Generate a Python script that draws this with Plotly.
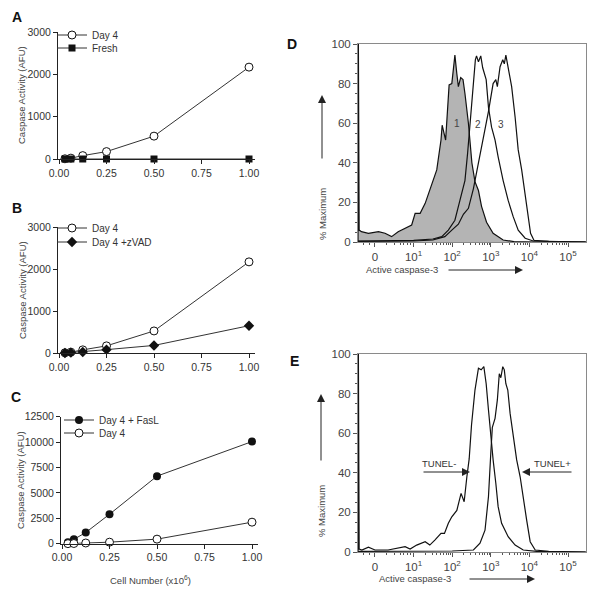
import math
import plotly.graph_objects as go

# page body adds an 8px offset; figure is sized so the visible window matches the reference
OFF = 8
W, H = 600 - OFF, 593 - OFF
FONT = "Liberation Sans, Arial, sans-serif"

# ---------------- data: panels A-C ----------------
cell_number = [0.03125, 0.0625, 0.125, 0.25, 0.5, 1.0]
a_day4 = [5, 20, 80, 175, 540, 2170]
a_fresh = [0, 0, 0, 0, 0, 0]
b_day4 = [5, 20, 75, 170, 525, 2170]
b_zvad = [0, 10, 25, 80, 180, 650]
c_fasl = [140, 430, 1100, 2900, 6650, 10050]
c_day4 = [5, 20, 70, 150, 450, 2120]

x_tickvals = [0, 0.25, 0.5, 0.75, 1.0]
x_ticktext = ["0.00", "0.25", "0.50", "0.75", "1.00"]
ab_y_ticks = [0, 1000, 2000, 3000]
c_y_ticks = [0, 2500, 5000, 7500, 10000, 12500]

# ---------------- data: panels D-E (flow histograms) ----------------
# x in display units: 0 -> 0, 1..5 -> 10^1..10^5
flow_tickvals = [0, 1, 2, 3, 4, 5]
flow_ticktext = ["0", "10<sup>1</sup>", "10<sup>2</sup>", "10<sup>3</sup>", "10<sup>4</sup>", "10<sup>5</sup>"]
pct_ticks = [0, 20, 40, 60, 80, 100]

d1_x = [-0.44, -0.43, -0.41, -0.35, -0.17, 0.09, 0.26, 0.43, 0.6, 0.78, 0.95, 1.04, 1.17, 1.3, 1.42,
        1.6, 1.71, 1.74, 1.83, 1.92, 1.99, 2.07, 2.12, 2.16, 2.22, 2.28, 2.33, 2.42, 2.51, 2.59,
        2.68, 2.76, 2.89, 3.06, 3.32, 3.6, 4.2, 5.46]
d1_y = [0, 100, 6, 5.2, 4.4, 5.2, 4.4, 2.7, 5.2, 6.9, 8.6, 14.5, 14.5, 19.5, 26.3,
        36.4, 51.5, 59, 51.5, 79.3, 80, 94.4, 85, 78.5, 83, 82, 75, 60, 40, 30.5,
        26, 18, 10, 4.4, 1, 0.2, 0, 0]

d2_x = [-0.44, 0.5, 1.0, 1.5, 1.73, 1.9, 2.07, 2.2, 2.33, 2.4, 2.46, 2.55, 2.6, 2.63, 2.68, 2.74,
        2.79, 2.88, 2.94, 3.02, 3.11, 3.19, 3.32, 3.45, 3.58, 3.71, 3.89, 4.1, 5.46]
d2_y = [0.5, 0.5, 0.8, 1.5, 2.7, 6, 11, 21, 31, 45, 60, 80, 92, 94, 91, 94,
        88, 82, 68, 58, 51.5, 43, 31, 21, 12.8, 6, 1.9, 0.5, 0]

d3_x = [-0.44, 1.0, 1.5, 1.81, 1.99, 2.16, 2.29, 2.42, 2.55, 2.68, 2.81, 2.94, 3.06, 3.13, 3.17,
        3.24, 3.31, 3.35, 3.39, 3.45, 3.54, 3.63, 3.71, 3.8, 3.89, 3.97, 4.03, 4.12, 4.5, 5.46]
d3_y = [0.3, 0.5, 1, 2.7, 6, 9, 14, 17, 27, 40, 51.5, 66, 80, 82, 78.5,
        88.5, 92, 90, 94.4, 88.5, 78.5, 63, 46.5, 36.4, 24.6, 12.8, 4.4, 0.8, 0.3, 0]

e_neg_x = [-0.44, -0.43, -0.41, -0.34, -0.17, 0, 0.34, 0.78, 0.91, 1.08, 1.3, 1.42, 1.55, 1.71,
           1.8, 1.9, 1.99, 2.12, 2.23, 2.31, 2.38, 2.44, 2.5, 2.59, 2.68, 2.75, 2.82, 2.88, 2.94,
           3.0, 3.06, 3.13, 3.19, 3.28, 3.37, 3.45, 3.63, 3.84, 4.19, 5.46]
e_neg_y = [0, 100, 1.5, 1, 2.4, 1, 1, 2.7, 1.5, 3.5, 5.2, 3.5, 6, 9.4,
           9.4, 14.5, 17.8, 21, 29.6, 25.4, 38, 47, 64, 81.8, 92.8, 92, 93.6, 85, 71.7,
           58, 46.5, 34.7, 22.9, 14.5, 11, 7.7, 3.5, 1, 0.3, 0]

e_pos_x = [-0.44, 1.0, 2.0, 2.55, 2.72, 2.85, 2.94, 3.0, 3.04, 3.11, 3.17, 3.22, 3.26, 3.31,
           3.35, 3.39, 3.44, 3.5, 3.58, 3.67, 3.76, 3.84, 3.93, 4.02, 4.15, 4.5, 5.46]
e_pos_y = [0.3, 0.3, 0.5, 1, 4.4, 11, 28, 50, 63, 67.5, 76.8, 90, 88, 93.6,
           92, 85, 81.8, 70, 58, 46.5, 38, 26.3, 16, 5.2, 1, 0.3, 0]


def px(x):
    return (x - OFF) / W


def py(y):
    return 1 - (y - OFF) / H


fig = go.Figure()

open_circle = dict(symbol="circle", size=8, color="white", line=dict(color="#111", width=1))
line_style = dict(color="#333", width=1)

# Panel A
fig.add_trace(go.Scatter(x=cell_number, y=a_day4, mode="lines+markers", name="Day 4",
                         marker=open_circle, line=line_style, xaxis="x", yaxis="y",
                         cliponaxis=False, legend="legend"))
fig.add_trace(go.Scatter(x=cell_number, y=a_fresh, mode="lines+markers", name="Fresh",
                         marker=dict(symbol="square", size=7, color="#111"), line=line_style,
                         xaxis="x", yaxis="y", cliponaxis=False, legend="legend2"))
# Panel B
fig.add_trace(go.Scatter(x=cell_number, y=b_day4, mode="lines+markers", name="Day 4",
                         marker=open_circle, line=line_style, xaxis="x2", yaxis="y2",
                         cliponaxis=False, legend="legend3"))
fig.add_trace(go.Scatter(x=cell_number, y=b_zvad, mode="lines+markers", name="Day 4 +zVAD",
                         marker=dict(symbol="diamond", size=8, color="#111"), line=line_style,
                         xaxis="x2", yaxis="y2", cliponaxis=False, legend="legend4"))
# Panel C
fig.add_trace(go.Scatter(x=cell_number, y=c_fasl, mode="lines+markers", name="Day 4 + FasL",
                         marker=dict(symbol="circle", size=8, color="#111"), line=line_style,
                         xaxis="x3", yaxis="y3", cliponaxis=False, legend="legend5"))
fig.add_trace(go.Scatter(x=cell_number, y=c_day4, mode="lines+markers", name="Day 4",
                         marker=open_circle, line=line_style, xaxis="x3", yaxis="y3",
                         cliponaxis=False, legend="legend6"))

# Panel D
fig.add_trace(go.Scatter(x=d1_x, y=d1_y, mode="lines", fill="tozeroy", fillcolor="#b4b4b4",
                         line=dict(color="#111", width=1.2), xaxis="x4", yaxis="y4", showlegend=False))
fig.add_trace(go.Scatter(x=d2_x, y=d2_y, mode="lines", line=dict(color="#111", width=1.2),
                         xaxis="x4", yaxis="y4", showlegend=False))
fig.add_trace(go.Scatter(x=d3_x, y=d3_y, mode="lines", line=dict(color="#111", width=1.2),
                         xaxis="x4", yaxis="y4", showlegend=False))
# Panel E
fig.add_trace(go.Scatter(x=e_neg_x, y=e_neg_y, mode="lines", line=dict(color="#111", width=1.2),
                         xaxis="x5", yaxis="y5", showlegend=False))
fig.add_trace(go.Scatter(x=e_pos_x, y=e_pos_y, mode="lines", line=dict(color="#111", width=1.2),
                         xaxis="x5", yaxis="y5", showlegend=False))

tickfont_left = dict(size=10.5, color="#333", family=FONT)
tickfont_flow = dict(size=11.5, color="#444", family=FONT)


def left_x(domain, anchor):
    return dict(domain=domain, range=[-1 / 190, 196 / 190], anchor=anchor, tickvals=x_tickvals,
                ticktext=x_ticktext, showline=True, linecolor="#222", linewidth=1, ticks="outside",
                ticklen=4, tickcolor="#222", tickfont=tickfont_left, showgrid=False, zeroline=False,
                automargin=False)


def left_y(domain, anchor, rng, tv):
    return dict(domain=domain, range=rng, anchor=anchor, tickvals=tv, tickformat="d", showline=True,
                linecolor="#222", linewidth=1, ticks="outside", ticklen=4, tickcolor="#222",
                tickfont=tickfont_left, showgrid=False, zeroline=False, automargin=False)


minor_x = [-0.3, -0.15, 0.3, 0.5, 0.65, 0.75, 0.85, 0.92]
for k in range(1, 5):
    for m in range(2, 10):
        minor_x.append(k + math.log10(m))


def flow_x(domain, anchor):
    return dict(domain=domain, range=[-0.44, 5.466], anchor=anchor, tickvals=flow_tickvals,
                ticktext=flow_ticktext, showline=True, mirror=True, linecolor="#8a8a8a", linewidth=1,
                ticks="outside", ticklen=4, tickcolor="#555", tickfont=tickfont_flow, showgrid=False,
                zeroline=False, automargin=False,
                minor=dict(tickmode="array", tickvals=minor_x, ticks="outside", ticklen=2, tickcolor="#555"))


def flow_y(domain, anchor):
    return dict(domain=domain, range=[0, 100], anchor=anchor, tickvals=pct_ticks,
                showline=True, mirror=True, linecolor="#8a8a8a", linewidth=1, ticks="outside", ticklen=4,
                tickcolor="#555", tickfont=tickfont_flow, showgrid=False, zeroline=False, automargin=False,
                minor=dict(dtick=5, ticks="outside", ticklen=2, tickcolor="#555"))


legend_base = dict(xanchor="left", yanchor="middle", bgcolor="rgba(0,0,0,0)", borderwidth=0,
                   font=dict(size=10, color="#333", family=FONT), itemwidth=30)


def leg(x, y):
    d = dict(legend_base)
    d.update(x=px(x), y=py(y))
    return d


fig.update_layout(
    width=W, height=H, margin=dict(l=0, r=0, t=0, b=0, autoexpand=False),
    paper_bgcolor="white", plot_bgcolor="white",
    font=dict(family=FONT, color="#333"),
    xaxis=left_x([px(58), px(255)], "y"),
    yaxis=left_y([py(159), py(32)], "x", [0, 3000], ab_y_ticks),
    xaxis2=left_x([px(58), px(255)], "y2"),
    yaxis2=left_y([py(353), py(227)], "x2", [0, 3000], ab_y_ticks),
    xaxis3=left_x([px(61), px(258)], "y3"),
    yaxis3=left_y([py(543.7), py(416.7)], "x3", [0, 12500], c_y_ticks),
    xaxis4=flow_x([px(358), px(586)], "y4"),
    yaxis4=flow_y([py(242), py(44)], "x4"),
    xaxis5=flow_x([px(358), px(586)], "y5"),
    yaxis5=flow_y([py(552), py(354)], "x5"),
    legend=leg(52, 35), legend2=leg(52, 48),
    legend3=leg(52, 228), legend4=leg(52, 242),
    legend5=leg(59, 420), legend6=leg(59, 433),
)

ann = []


def text(x, y, t, size=9.5, color="#333", angle=0, bold=False):
    ann.append(dict(x=px(x), y=py(y), xref="paper", yref="paper", text=("<b>%s</b>" % t) if bold else t,
                    showarrow=False, xanchor="center", yanchor="middle", textangle=angle,
                    font=dict(size=size, color=color, family=FONT)))


def arrow(hx, hy, tx, ty):
    ann.append(dict(x=px(hx), y=py(hy), xref="paper", yref="paper", text="", showarrow=True,
                    ax=tx - hx, ay=ty - hy, arrowhead=2, arrowsize=1.6, arrowwidth=1,
                    arrowcolor="#222", standoff=0))


for lbl, x, y in [("A", 17, 17), ("B", 17, 208), ("C", 16, 397), ("D", 292, 44), ("E", 294, 361)]:
    text(x, y, lbl, size=14, color="#111", bold=True)

text(21, 95, "Caspase Activity (AFU)", angle=-90, color="#444")
text(22, 290, "Caspase Activity (AFU)", angle=-90, color="#444")
text(20, 480, "Caspase Activity (AFU)", angle=-90, color="#444")
text(150, 580, "Cell Number (x10<sup>6</sup>)", color="#444")

# Panel D annotations
text(322, 214, "% Maximum", angle=-90, color="#444")
arrow(322, 95, 322, 160)
text(402, 269, "Active caspase-3", color="#444")
arrow(523, 270, 447, 270)
text(457, 124, "1", size=10, color="#444")
text(478, 125, "2", size=10, color="#444")
text(501, 125, "3", size=10, color="#444")

# Panel E annotations
text(321, 511, "% Maximum", angle=-90, color="#444")
arrow(321, 394, 321, 462)
text(415, 578, "Active caspase-3", color="#444")
arrow(535, 579, 468, 579)
text(439, 463, "TUNEL-", size=9.5, color="#333")
arrow(470, 472, 422, 472)
text(552, 463, "TUNEL+", size=9.5, color="#333")
arrow(522, 472, 573, 472)

fig.update_layout(annotations=ann)

fig.write_html("out.html")
